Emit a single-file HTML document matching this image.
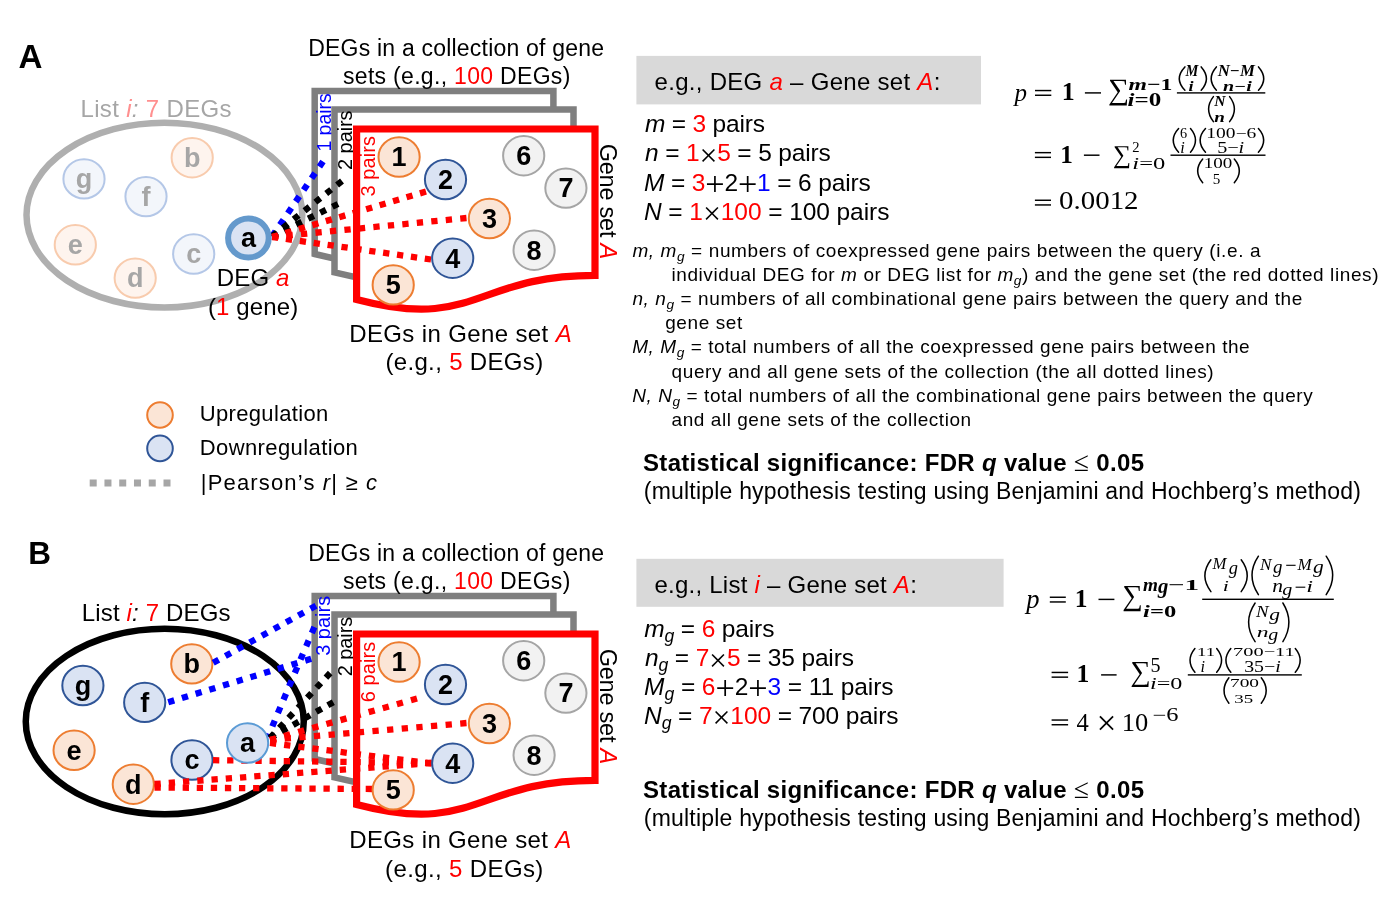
<!DOCTYPE html>
<html><head><meta charset="utf-8"><title>DEG gene set enrichment diagram</title>
<style>html,body{margin:0;padding:0;background:#fff;} svg{display:block;will-change:transform;}</style></head>
<body><svg width="1392" height="902" viewBox="0 0 1392 902" font-family="'Liberation Sans', sans-serif">
<rect width="1392" height="902" fill="#fff"/>
<ellipse cx="164.4" cy="215.1" rx="137.9" ry="92.4" fill="none" stroke="#afafaf" stroke-width="6.5"/>
<ellipse cx="192.2" cy="157.7" rx="20.6" ry="19.7" fill="#fef4ee" stroke="#f8cbad" stroke-width="2.0"/>
<text x="192.2" y="167.0" font-size="27" font-weight="bold" text-anchor="middle" fill="#a6a6a6">b</text>
<ellipse cx="84" cy="178.9" rx="20.6" ry="19.7" fill="#f3f6fb" stroke="#b4c7e7" stroke-width="2.0"/>
<text x="84" y="188.2" font-size="27" font-weight="bold" text-anchor="middle" fill="#a6a6a6">g</text>
<ellipse cx="146" cy="196.6" rx="20.6" ry="19.7" fill="#f3f6fb" stroke="#b4c7e7" stroke-width="2.0"/>
<text x="146" y="205.9" font-size="27" font-weight="bold" text-anchor="middle" fill="#a6a6a6">f</text>
<ellipse cx="75.3" cy="244.8" rx="20.6" ry="19.7" fill="#fef4ee" stroke="#f8cbad" stroke-width="2.0"/>
<text x="75.3" y="254.1" font-size="27" font-weight="bold" text-anchor="middle" fill="#a6a6a6">e</text>
<ellipse cx="193.7" cy="254" rx="20.6" ry="19.7" fill="#f3f6fb" stroke="#b4c7e7" stroke-width="2.0"/>
<text x="193.7" y="263.3" font-size="27" font-weight="bold" text-anchor="middle" fill="#a6a6a6">c</text>
<ellipse cx="135.2" cy="278.1" rx="20.6" ry="19.7" fill="#fef4ee" stroke="#f8cbad" stroke-width="2.0"/>
<text x="135.2" y="287.4" font-size="27" font-weight="bold" text-anchor="middle" fill="#a6a6a6">d</text>
<path d="M314.7,91.1 H553.4 V231.0 C434.0,231.0 434.0,284.2 314.7,254.0 Z" fill="#fff" stroke="#7f7f7f" stroke-width="6.5" stroke-linejoin="miter"/>
<text transform="translate(330.6,151.6) rotate(-90)" x="0" y="0" font-size="19.5" fill="#0000ff" textLength="58.3" lengthAdjust="spacing"><tspan>1 pairs</tspan></text>
<line x1="323" y1="161.5" x2="272" y2="236.5" stroke="#0000ff" stroke-width="6.3" stroke-dasharray="6.3 7.766"/>
<path d="M334.5,109.5 H573.5 V249.4 C454.0,249.4 454.0,302.6 334.5,272.4 Z" fill="#fff" stroke="#7f7f7f" stroke-width="6.5" stroke-linejoin="miter"/>
<text transform="translate(351.9,169.9) rotate(-90)" x="0" y="0" font-size="20" fill="#000" textLength="59.5" lengthAdjust="spacing"><tspan>2 pairs</tspan></text>
<line x1="342" y1="181" x2="272" y2="236.5" stroke="#000" stroke-width="6.3" stroke-dasharray="6.3 7.539"/>
<line x1="338" y1="204" x2="272" y2="236.5" stroke="#000" stroke-width="6.3" stroke-dasharray="6.3 7.154"/>
<path d="M356.6,129 H595.0 V275.3 C475.8,275.3 475.8,331.0 356.6,299.4 Z" fill="#fff" stroke="#ff0000" stroke-width="7.2" stroke-linejoin="miter"/>
<text transform="translate(375.2,196.5) rotate(-90)" x="0" y="0" font-size="20" fill="#ff0000" textLength="60.5" lengthAdjust="spacing"><tspan>3 pairs</tspan></text>
<line x1="426" y1="191.6" x2="272" y2="237" stroke="#ff0000" stroke-width="6.3" stroke-dasharray="6.3 7.723"/>
<line x1="466.5" y1="218" x2="272" y2="237" stroke="#ff0000" stroke-width="6.3" stroke-dasharray="6.3 8.248"/>
<line x1="431" y1="259.5" x2="272" y2="237" stroke="#ff0000" stroke-width="6.3" stroke-dasharray="6.3 7.726"/>
<ellipse cx="248.4" cy="238" rx="20.3" ry="19.5" fill="#dae3f3" stroke="#6499cc" stroke-width="6"/>
<text x="248.4" y="247.3" font-size="27" font-weight="bold" text-anchor="middle" fill="#000">a</text>
<ellipse cx="399.1" cy="157" rx="20.6" ry="19.7" fill="#fbe5d6" stroke="#ed7d31" stroke-width="2.0"/>
<text x="399.1" y="166.3" font-size="27" font-weight="bold" text-anchor="middle" fill="#000">1</text>
<ellipse cx="445.5" cy="179.5" rx="20.6" ry="19.7" fill="#dae3f3" stroke="#2f5597" stroke-width="2.0"/>
<text x="445.5" y="188.8" font-size="27" font-weight="bold" text-anchor="middle" fill="#000">2</text>
<ellipse cx="489.4" cy="218.5" rx="20.6" ry="19.7" fill="#fbe5d6" stroke="#ed7d31" stroke-width="2.0"/>
<text x="489.4" y="227.8" font-size="27" font-weight="bold" text-anchor="middle" fill="#000">3</text>
<ellipse cx="452.7" cy="258.2" rx="20.6" ry="19.7" fill="#dae3f3" stroke="#2f5597" stroke-width="2.0"/>
<text x="452.7" y="267.5" font-size="27" font-weight="bold" text-anchor="middle" fill="#000">4</text>
<ellipse cx="393.2" cy="284.9" rx="20.6" ry="19.7" fill="#fbe5d6" stroke="#ed7d31" stroke-width="2.0"/>
<text x="393.2" y="294.2" font-size="27" font-weight="bold" text-anchor="middle" fill="#000">5</text>
<ellipse cx="523.7" cy="155.7" rx="20.6" ry="19.7" fill="#f2f2f2" stroke="#a5a5a5" stroke-width="2.0"/>
<text x="523.7" y="165.0" font-size="27" font-weight="bold" text-anchor="middle" fill="#000">6</text>
<ellipse cx="565.9" cy="188.1" rx="20.6" ry="19.7" fill="#f2f2f2" stroke="#a5a5a5" stroke-width="2.0"/>
<text x="565.9" y="197.4" font-size="27" font-weight="bold" text-anchor="middle" fill="#000">7</text>
<ellipse cx="534.1" cy="250.2" rx="20.6" ry="19.7" fill="#f2f2f2" stroke="#a5a5a5" stroke-width="2.0"/>
<text x="534.1" y="259.5" font-size="27" font-weight="bold" text-anchor="middle" fill="#000">8</text>
<text transform="translate(599.6,143.7) rotate(90)" x="0" y="0" font-size="23.5" fill="#000" textLength="115.5" lengthAdjust="spacing"><tspan>Gene set </tspan><tspan fill="#ff0000" font-style="italic">A</tspan></text>
<circle cx="160" cy="415" r="12.8" fill="#fbe5d6" stroke="#ed7d31" stroke-width="2"/>
<circle cx="160" cy="448.4" r="12.8" fill="#dae3f3" stroke="#2f5597" stroke-width="2"/>
<line x1="170.5" y1="482.9" x2="89.7" y2="482.9" stroke="#a6a6a6" stroke-width="7" stroke-dasharray="7 7.760"/>
<rect x="636.4" y="55.9" width="344.6" height="48.5" fill="#d9d9d9"/>
<rect x="1176.9" y="92.20" width="88.4" height="1.4" fill="#000"/>
<path d="M1184.9,66.9 Q1173.7,78.6 1184.9,90.2" fill="none" stroke="#000" stroke-width="1.5" stroke-linecap="round"/>
<path d="M1201.2,66.9 Q1211.6,78.6 1201.2,90.2" fill="none" stroke="#000" stroke-width="1.5" stroke-linecap="round"/>
<path d="M1216.4,66.9 Q1206.0,78.6 1216.4,90.2" fill="none" stroke="#000" stroke-width="1.5" stroke-linecap="round"/>
<path d="M1258.5,66.9 Q1268.9,78.6 1258.5,90.2" fill="none" stroke="#000" stroke-width="1.5" stroke-linecap="round"/>
<path d="M1213.4,96.6 Q1203.8,109.1 1213.4,121.6" fill="none" stroke="#000" stroke-width="1.5" stroke-linecap="round"/>
<path d="M1229.6,96.6 Q1239.2,109.1 1229.6,121.6" fill="none" stroke="#000" stroke-width="1.5" stroke-linecap="round"/>
<rect x="1170.5" y="154.50" width="95.0" height="1.4" fill="#000"/>
<path d="M1178.6,128.6 Q1167.8,140.4 1178.6,152.3" fill="none" stroke="#000" stroke-width="1.5" stroke-linecap="round"/>
<path d="M1190.5,128.6 Q1200.5,140.4 1190.5,152.3" fill="none" stroke="#000" stroke-width="1.5" stroke-linecap="round"/>
<path d="M1205.5,128.6 Q1194.7,140.4 1205.5,152.3" fill="none" stroke="#000" stroke-width="1.5" stroke-linecap="round"/>
<path d="M1258.4,128.6 Q1269.0,140.4 1258.4,152.3" fill="none" stroke="#000" stroke-width="1.5" stroke-linecap="round"/>
<path d="M1202.7,159.0 Q1192.7,170.8 1202.7,182.7" fill="none" stroke="#000" stroke-width="1.5" stroke-linecap="round"/>
<path d="M1234.3,159.0 Q1244.3,170.8 1234.3,182.7" fill="none" stroke="#000" stroke-width="1.5" stroke-linecap="round"/>
<rect x="1035" y="89.83" width="16.3" height="1.45" fill="#000"/>
<rect x="1035" y="94.53" width="16.3" height="1.45" fill="#000"/>
<rect x="1084.9" y="92.18" width="16.1" height="1.45" fill="#000"/>
<rect x="1034.9" y="151.93" width="16.1" height="1.45" fill="#000"/>
<rect x="1034.9" y="156.62" width="16.1" height="1.45" fill="#000"/>
<rect x="1083.9" y="154.47" width="15.6" height="1.45" fill="#000"/>
<rect x="1034.9" y="199.53" width="16.1" height="1.45" fill="#000"/>
<rect x="1034.9" y="204.22" width="16.1" height="1.45" fill="#000"/>
<ellipse cx="164.75" cy="721.5" rx="139" ry="92.75" fill="none" stroke="#000" stroke-width="6.5"/>
<ellipse cx="191.8" cy="663.9" rx="20.6" ry="19.7" fill="#fbe5d6" stroke="#ed7d31" stroke-width="2.0"/>
<text x="191.8" y="673.2" font-size="27" font-weight="bold" text-anchor="middle" fill="#000">b</text>
<ellipse cx="82.9" cy="685.5" rx="20.6" ry="19.7" fill="#dae3f3" stroke="#2f5597" stroke-width="2.0"/>
<text x="82.9" y="694.8" font-size="27" font-weight="bold" text-anchor="middle" fill="#000">g</text>
<ellipse cx="144.7" cy="702.4" rx="20.6" ry="19.7" fill="#dae3f3" stroke="#2f5597" stroke-width="2.0"/>
<text x="144.7" y="711.7" font-size="27" font-weight="bold" text-anchor="middle" fill="#000">f</text>
<ellipse cx="74.1" cy="750.3" rx="20.6" ry="19.7" fill="#fbe5d6" stroke="#ed7d31" stroke-width="2.0"/>
<text x="74.1" y="759.6" font-size="27" font-weight="bold" text-anchor="middle" fill="#000">e</text>
<ellipse cx="192" cy="760" rx="20.6" ry="19.7" fill="#dae3f3" stroke="#2f5597" stroke-width="2.0"/>
<text x="192" y="769.3" font-size="27" font-weight="bold" text-anchor="middle" fill="#000">c</text>
<ellipse cx="133.3" cy="784.2" rx="20.6" ry="19.7" fill="#fbe5d6" stroke="#ed7d31" stroke-width="2.0"/>
<text x="133.3" y="793.5" font-size="27" font-weight="bold" text-anchor="middle" fill="#000">d</text>
<path d="M314.7,596.1 H553.4 V736.0 C434.0,736.0 434.0,789.2 314.7,759.0 Z" fill="#fff" stroke="#7f7f7f" stroke-width="6.5" stroke-linejoin="miter"/>
<text transform="translate(329.8,655.8) rotate(-90)" x="0" y="0" font-size="20" fill="#0000ff" textLength="60" lengthAdjust="spacing"><tspan>3 pairs</tspan></text>
<line x1="316" y1="605.8" x2="213.2" y2="662.7" stroke="#0000ff" stroke-width="6.3" stroke-dasharray="6.3 7.600"/>
<line x1="311.2" y1="658.8" x2="168.2" y2="702.2" stroke="#0000ff" stroke-width="6.3" stroke-dasharray="6.3 8.014"/>
<path d="M314.4,627 Q281,705 268,737" fill="none" stroke="#0000ff" stroke-width="6.3" stroke-dasharray="6.3 8.2"/>
<path d="M334.5,614.5 H573.5 V754.4 C454.0,754.4 454.0,807.6 334.5,777.4 Z" fill="#fff" stroke="#7f7f7f" stroke-width="6.5" stroke-linejoin="miter"/>
<text transform="translate(351.9,676.2) rotate(-90)" x="0" y="0" font-size="20" fill="#000" textLength="59.5" lengthAdjust="spacing"><tspan>2 pairs</tspan></text>
<line x1="330.2" y1="673" x2="270" y2="738" stroke="#000" stroke-width="6.3" stroke-dasharray="6.3 7.416"/>
<line x1="333.3" y1="702.2" x2="270" y2="738" stroke="#000" stroke-width="6.3" stroke-dasharray="6.3 6.984"/>
<path d="M356.6,634 H595.0 V780.3 C475.8,780.3 475.8,836.0 356.6,804.4 Z" fill="#fff" stroke="#ff0000" stroke-width="7.2" stroke-linejoin="miter"/>
<text transform="translate(375.2,702.3) rotate(-90)" x="0" y="0" font-size="20" fill="#ff0000" textLength="60.5" lengthAdjust="spacing"><tspan>6 pairs</tspan></text>
<line x1="417" y1="698.5" x2="270" y2="740" stroke="#ff0000" stroke-width="6.3" stroke-dasharray="6.3 8.345"/>
<line x1="466.5" y1="723" x2="270" y2="740" stroke="#ff0000" stroke-width="6.3" stroke-dasharray="6.3 8.387"/>
<line x1="431.5" y1="763.5" x2="270" y2="743" stroke="#ff0000" stroke-width="6.3" stroke-dasharray="6.3 7.927"/>
<line x1="431.5" y1="763" x2="213" y2="760.2" stroke="#ff0000" stroke-width="6.3" stroke-dasharray="6.3 7.848"/>
<line x1="431.5" y1="763" x2="154.5" y2="784" stroke="#ff0000" stroke-width="6.3" stroke-dasharray="6.3 7.989"/>
<line x1="372" y1="789" x2="154.5" y2="787.5" stroke="#ff0000" stroke-width="6.3" stroke-dasharray="6.3 7.780"/>
<ellipse cx="247.6" cy="743" rx="20.6" ry="19.7" fill="#dae3f3" stroke="#5b9bd5" stroke-width="2"/>
<text x="247.6" y="752.3" font-size="27" font-weight="bold" text-anchor="middle" fill="#000">a</text>
<ellipse cx="399.1" cy="662" rx="20.6" ry="19.7" fill="#fbe5d6" stroke="#ed7d31" stroke-width="2.0"/>
<text x="399.1" y="671.3" font-size="27" font-weight="bold" text-anchor="middle" fill="#000">1</text>
<ellipse cx="445.5" cy="684.5" rx="20.6" ry="19.7" fill="#dae3f3" stroke="#2f5597" stroke-width="2.0"/>
<text x="445.5" y="693.8" font-size="27" font-weight="bold" text-anchor="middle" fill="#000">2</text>
<ellipse cx="489.4" cy="723.5" rx="20.6" ry="19.7" fill="#fbe5d6" stroke="#ed7d31" stroke-width="2.0"/>
<text x="489.4" y="732.8" font-size="27" font-weight="bold" text-anchor="middle" fill="#000">3</text>
<ellipse cx="452.7" cy="763.2" rx="20.6" ry="19.7" fill="#dae3f3" stroke="#2f5597" stroke-width="2.0"/>
<text x="452.7" y="772.5" font-size="27" font-weight="bold" text-anchor="middle" fill="#000">4</text>
<ellipse cx="393.2" cy="789.9" rx="20.6" ry="19.7" fill="#fbe5d6" stroke="#ed7d31" stroke-width="2.0"/>
<text x="393.2" y="799.2" font-size="27" font-weight="bold" text-anchor="middle" fill="#000">5</text>
<ellipse cx="523.7" cy="660.7" rx="20.6" ry="19.7" fill="#f2f2f2" stroke="#a5a5a5" stroke-width="2.0"/>
<text x="523.7" y="670.0" font-size="27" font-weight="bold" text-anchor="middle" fill="#000">6</text>
<ellipse cx="565.9" cy="693.1" rx="20.6" ry="19.7" fill="#f2f2f2" stroke="#a5a5a5" stroke-width="2.0"/>
<text x="565.9" y="702.4" font-size="27" font-weight="bold" text-anchor="middle" fill="#000">7</text>
<ellipse cx="534.1" cy="755.2" rx="20.6" ry="19.7" fill="#f2f2f2" stroke="#a5a5a5" stroke-width="2.0"/>
<text x="534.1" y="764.5" font-size="27" font-weight="bold" text-anchor="middle" fill="#000">8</text>
<text transform="translate(599.6,648.7) rotate(90)" x="0" y="0" font-size="23.5" fill="#000" textLength="115.5" lengthAdjust="spacing"><tspan>Gene set </tspan><tspan fill="#ff0000" font-style="italic">A</tspan></text>
<rect x="636.4" y="558.8" width="367.2" height="48" fill="#d9d9d9"/>
<rect x="1202.2" y="598.60" width="131.6" height="1.4" fill="#000"/>
<path d="M1210.9,559.8 Q1198.9,575.7 1210.9,591.6" fill="none" stroke="#000" stroke-width="1.5" stroke-linecap="round"/>
<path d="M1241.2,559.8 Q1253.2,575.7 1241.2,591.6" fill="none" stroke="#000" stroke-width="1.5" stroke-linecap="round"/>
<path d="M1258.4,556.2 Q1245.6,575.5 1258.4,594.7" fill="none" stroke="#000" stroke-width="1.5" stroke-linecap="round"/>
<path d="M1326.2,556.2 Q1339.2,575.5 1326.2,594.7" fill="none" stroke="#000" stroke-width="1.5" stroke-linecap="round"/>
<path d="M1255.1,603.0 Q1242.1,622.3 1255.1,641.6" fill="none" stroke="#000" stroke-width="1.5" stroke-linecap="round"/>
<path d="M1282.9,603.0 Q1294.9,622.3 1282.9,641.6" fill="none" stroke="#000" stroke-width="1.5" stroke-linecap="round"/>
<rect x="1187.8" y="674.20" width="114.0" height="1.4" fill="#000"/>
<path d="M1194.9,648.5 Q1185.1,660.4 1194.9,672.3" fill="none" stroke="#000" stroke-width="1.5" stroke-linecap="round"/>
<path d="M1216.7,648.5 Q1226.5,660.4 1216.7,672.3" fill="none" stroke="#000" stroke-width="1.5" stroke-linecap="round"/>
<path d="M1230.8,648.5 Q1221.0,660.4 1230.8,672.3" fill="none" stroke="#000" stroke-width="1.5" stroke-linecap="round"/>
<path d="M1295.3,648.5 Q1305.1,660.4 1295.3,672.3" fill="none" stroke="#000" stroke-width="1.5" stroke-linecap="round"/>
<path d="M1228.9,677.8 Q1219.1,690.5 1228.9,703.2" fill="none" stroke="#000" stroke-width="1.5" stroke-linecap="round"/>
<path d="M1261.3,677.8 Q1271.1,690.5 1261.3,703.2" fill="none" stroke="#000" stroke-width="1.5" stroke-linecap="round"/>
<rect x="1049.8" y="596.52" width="16.0" height="1.45" fill="#000"/>
<rect x="1049.8" y="601.23" width="16.0" height="1.45" fill="#000"/>
<rect x="1098.5" y="598.67" width="15.9" height="1.45" fill="#000"/>
<rect x="1286.2" y="564.75" width="9.4" height="1.1" fill="#000"/>
<rect x="1295.6" y="586.65" width="9.7" height="1.1" fill="#000"/>
<rect x="1051.6" y="671.72" width="16.5" height="1.45" fill="#000"/>
<rect x="1051.6" y="676.42" width="16.5" height="1.45" fill="#000"/>
<rect x="1101.1" y="674.17" width="15.5" height="1.45" fill="#000"/>
<rect x="1051.6" y="719.32" width="16.5" height="1.45" fill="#000"/>
<rect x="1051.6" y="724.02" width="16.5" height="1.45" fill="#000"/>
<text x="18.50" y="67.50" font-size="33.19" font-weight="bold"><tspan>A</tspan></text>
<text x="80.50" y="116.80" font-size="24.00" fill="#a6a6a6" textLength="151.00" lengthAdjust="spacing"><tspan>List </tspan><tspan fill="#ff8f8f" font-style="italic">i</tspan><tspan font-style="italic">: </tspan><tspan fill="#ff8f8f">7</tspan><tspan> DEGs</tspan></text>
<text x="308.20" y="55.70" font-size="23.00" textLength="295.90" lengthAdjust="spacing"><tspan>DEGs in a collection of gene</tspan></text>
<text x="343.00" y="83.50" font-size="23.00" textLength="227.30" lengthAdjust="spacing"><tspan>sets (e.g., </tspan><tspan fill="#ff0000">100</tspan><tspan> DEGs)</tspan></text>
<text x="349.20" y="341.70" font-size="24.00" textLength="222.50" lengthAdjust="spacing"><tspan>DEGs in Gene set </tspan><tspan fill="#ff0000" font-style="italic">A</tspan></text>
<text x="385.40" y="369.80" font-size="24.00" textLength="157.80" lengthAdjust="spacing"><tspan>(e.g., </tspan><tspan fill="#ff0000">5</tspan><tspan> DEGs)</tspan></text>
<text x="216.80" y="285.70" font-size="24.00" textLength="72.60" lengthAdjust="spacing"><tspan>DEG </tspan><tspan fill="#ff0000" font-style="italic">a</tspan></text>
<text x="208.00" y="315.00" font-size="24.00" textLength="90.20" lengthAdjust="spacing"><tspan>(</tspan><tspan fill="#ff0000">1</tspan><tspan> gene)</tspan></text>
<text x="199.80" y="420.90" font-size="22.00" textLength="128.40" lengthAdjust="spacing"><tspan>Upregulation</tspan></text>
<text x="199.80" y="455.30" font-size="22.00" textLength="158.00" lengthAdjust="spacing"><tspan>Downregulation</tspan></text>
<text x="200.80" y="489.80" font-size="22.00" textLength="176.20" lengthAdjust="spacing"><tspan>|Pearson’s </tspan><tspan font-style="italic">r</tspan><tspan>| ≥ </tspan><tspan font-style="italic">c</tspan></text>
<text x="654.60" y="89.50" font-size="24.00" textLength="285.70" lengthAdjust="spacing"><tspan>e.g., DEG </tspan><tspan fill="#ff0000" font-style="italic">a</tspan><tspan> – Gene set </tspan><tspan fill="#ff0000" font-style="italic">A</tspan><tspan>:</tspan></text>
<text x="645.00" y="132.30" font-size="24.50" textLength="119.90" lengthAdjust="spacing"><tspan font-style="italic">m</tspan><tspan> = </tspan><tspan fill="#ff0000">3</tspan><tspan> pairs</tspan></text>
<text x="645.10" y="161.30" font-size="24.50" textLength="185.60" lengthAdjust="spacing"><tspan font-style="italic">n</tspan><tspan> = </tspan><tspan fill="#ff0000">1</tspan><tspan font-size="31.85" dy="4.3" font-family="'Liberation Serif', serif">×</tspan><tspan fill="#ff0000" dy="-4.3">5</tspan><tspan> = 5 pairs</tspan></text>
<text x="644.00" y="190.90" font-size="24.50" textLength="226.80" lengthAdjust="spacing"><tspan font-style="italic">M</tspan><tspan> = </tspan><tspan fill="#ff0000">3</tspan><tspan font-size="34.30" dy="4" font-family="'Liberation Serif', serif">+</tspan><tspan dy="-4">2</tspan><tspan font-size="34.30" dy="4" font-family="'Liberation Serif', serif">+</tspan><tspan fill="#0000ff" dy="-4">1</tspan><tspan> = 6 pairs</tspan></text>
<text x="644.00" y="219.80" font-size="24.50" textLength="245.40" lengthAdjust="spacing"><tspan font-style="italic">N</tspan><tspan> = </tspan><tspan fill="#ff0000">1</tspan><tspan font-size="31.85" dy="4.3" font-family="'Liberation Serif', serif">×</tspan><tspan fill="#ff0000" dy="-4.3">100</tspan><tspan> = 100 pairs</tspan></text>
<text x="632.40" y="256.60" font-size="19.00" textLength="628.10" lengthAdjust="spacing"><tspan font-style="italic">m, m</tspan><tspan font-style="italic" font-size="13.68" dy="4">g</tspan><tspan dy="-4"> = numbers of coexpressed gene pairs between the query (i.e. a</tspan></text>
<text x="671.40" y="280.80" font-size="19.00" textLength="707.10" lengthAdjust="spacing"><tspan>individual DEG for </tspan><tspan font-style="italic">m</tspan><tspan> or DEG list for </tspan><tspan font-style="italic">m</tspan><tspan font-style="italic" font-size="13.68" dy="4">g</tspan><tspan dy="-4">) and the gene set (the red dotted lines)</tspan></text>
<text x="632.40" y="305.00" font-size="19.00" textLength="669.90" lengthAdjust="spacing"><tspan font-style="italic">n, n</tspan><tspan font-style="italic" font-size="13.68" dy="4">g</tspan><tspan dy="-4"> = numbers of all combinational gene pairs between the query and the</tspan></text>
<text x="665.20" y="329.10" font-size="19.00" textLength="77.00" lengthAdjust="spacing"><tspan>gene set</tspan></text>
<text x="632.20" y="353.40" font-size="19.00" textLength="617.50" lengthAdjust="spacing"><tspan font-style="italic">M, M</tspan><tspan font-style="italic" font-size="13.68" dy="4">g</tspan><tspan dy="-4"> = total numbers of all the coexpressed gene pairs between the</tspan></text>
<text x="671.60" y="377.60" font-size="19.00" textLength="542.00" lengthAdjust="spacing"><tspan>query and all gene sets of the collection (the all dotted lines)</tspan></text>
<text x="632.20" y="402.00" font-size="19.00" textLength="680.50" lengthAdjust="spacing"><tspan font-style="italic">N, N</tspan><tspan font-style="italic" font-size="13.68" dy="4">g</tspan><tspan dy="-4"> = total numbers of all the combinational gene pairs between the query</tspan></text>
<text x="671.60" y="426.00" font-size="19.00" textLength="299.50" lengthAdjust="spacing"><tspan>and all gene sets of the collection</tspan></text>
<text x="643.00" y="471.10" font-size="24.00" font-weight="bold" textLength="501.00" lengthAdjust="spacing"><tspan>Statistical significance: FDR </tspan><tspan font-style="italic">q</tspan><tspan> value </tspan><tspan font-weight="normal" font-size="27.60" font-family="'Liberation Serif', serif">≤</tspan><tspan> 0.05</tspan></text>
<text x="643.80" y="499.30" font-size="23.00" textLength="717.20" lengthAdjust="spacing"><tspan>(multiple hypothesis testing using Benjamini and Hochberg’s method)</tspan></text>
<text x="28.20" y="564.00" font-size="31.47" font-weight="bold"><tspan>B</tspan></text>
<text x="81.80" y="621.40" font-size="24.00" textLength="148.80" lengthAdjust="spacing"><tspan>List </tspan><tspan fill="#ff0000" font-style="italic">i</tspan><tspan font-style="italic">: </tspan><tspan fill="#ff0000">7</tspan><tspan> DEGs</tspan></text>
<text x="308.20" y="560.70" font-size="23.00" textLength="295.90" lengthAdjust="spacing"><tspan>DEGs in a collection of gene</tspan></text>
<text x="343.00" y="588.50" font-size="23.00" textLength="227.30" lengthAdjust="spacing"><tspan>sets (e.g., </tspan><tspan fill="#ff0000">100</tspan><tspan> DEGs)</tspan></text>
<text x="349.30" y="847.90" font-size="24.00" textLength="222.00" lengthAdjust="spacing"><tspan>DEGs in Gene set </tspan><tspan fill="#ff0000" font-style="italic">A</tspan></text>
<text x="385.10" y="876.80" font-size="24.00" textLength="158.20" lengthAdjust="spacing"><tspan>(e.g., </tspan><tspan fill="#ff0000">5</tspan><tspan> DEGs)</tspan></text>
<text x="654.40" y="592.70" font-size="24.00" textLength="262.40" lengthAdjust="spacing"><tspan>e.g., List </tspan><tspan fill="#ff0000" font-style="italic">i</tspan><tspan> – Gene set </tspan><tspan fill="#ff0000" font-style="italic">A</tspan><tspan>:</tspan></text>
<text x="644.20" y="637.30" font-size="24.50" textLength="130.20" lengthAdjust="spacing"><tspan font-style="italic">m</tspan><tspan font-style="italic" font-size="17.64" dy="5">g</tspan><tspan dy="-5"> = </tspan><tspan fill="#ff0000">6</tspan><tspan> pairs</tspan></text>
<text x="645.10" y="666.20" font-size="24.50" textLength="208.80" lengthAdjust="spacing"><tspan font-style="italic">n</tspan><tspan font-style="italic" font-size="17.64" dy="5">g</tspan><tspan dy="-5"> = </tspan><tspan fill="#ff0000">7</tspan><tspan font-size="31.85" dy="4.3" font-family="'Liberation Serif', serif">×</tspan><tspan fill="#ff0000" dy="-4.3">5</tspan><tspan> = 35 pairs</tspan></text>
<text x="644.10" y="695.30" font-size="24.50" textLength="249.40" lengthAdjust="spacing"><tspan font-style="italic">M</tspan><tspan font-style="italic" font-size="17.64" dy="5">g</tspan><tspan dy="-5"> = </tspan><tspan fill="#ff0000">6</tspan><tspan font-size="34.30" dy="4" font-family="'Liberation Serif', serif">+</tspan><tspan dy="-4">2</tspan><tspan font-size="34.30" dy="4" font-family="'Liberation Serif', serif">+</tspan><tspan fill="#0000ff" dy="-4">3</tspan><tspan> = 11 pairs</tspan></text>
<text x="644.10" y="723.50" font-size="24.50" textLength="254.40" lengthAdjust="spacing"><tspan font-style="italic">N</tspan><tspan font-style="italic" font-size="17.64" dy="5">g</tspan><tspan dy="-5"> = </tspan><tspan fill="#ff0000">7</tspan><tspan font-size="31.85" dy="4.3" font-family="'Liberation Serif', serif">×</tspan><tspan fill="#ff0000" dy="-4.3">100</tspan><tspan> = 700 pairs</tspan></text>
<text x="643.00" y="798.00" font-size="24.00" font-weight="bold" textLength="501.00" lengthAdjust="spacing"><tspan>Statistical significance: FDR </tspan><tspan font-style="italic">q</tspan><tspan> value </tspan><tspan font-weight="normal" font-size="27.60" font-family="'Liberation Serif', serif">≤</tspan><tspan> 0.05</tspan></text>
<text x="643.80" y="826.00" font-size="23.00" textLength="717.20" lengthAdjust="spacing"><tspan>(multiple hypothesis testing using Benjamini and Hochberg’s method)</tspan></text>
<text x="1014.60" y="101.20" font-size="25.01" font-family="'Liberation Serif', serif" font-style="italic"><tspan>p</tspan></text>
<text x="1061.80" y="100.20" font-size="25.99" font-family="'Liberation Serif', serif" font-weight="bold"><tspan>1</tspan></text>
<text x="1108.00" y="98.80" font-size="29.64" font-family="'Liberation Serif', serif"><tspan>∑</tspan></text>
<text x="1128.50" y="89.70" font-size="17.31" font-family="'Liberation Serif', serif" font-weight="bold" transform="matrix(1.3706,0,0,1,-418.21,0)"><tspan font-style="italic">m</tspan><tspan>−1</tspan></text>
<text x="1127.50" y="106.50" font-size="19.12" font-family="'Liberation Serif', serif" font-weight="bold" transform="matrix(1.3109,0,0,1,-350.57,0)"><tspan font-style="italic">i</tspan><tspan>=0</tspan></text>
<text x="1185.50" y="75.80" font-size="15.76" font-family="'Liberation Serif', serif" font-weight="bold" font-style="italic" transform="matrix(0.9178,0,0,1,97.44,0)"><tspan>M</tspan></text>
<text x="1188.60" y="90.70" font-size="14.07" font-family="'Liberation Serif', serif" font-weight="bold" font-style="italic" transform="matrix(1.2907,0,0,1,-345.55,0)"><tspan>i</tspan></text>
<text x="1217.70" y="75.80" font-size="15.76" font-family="'Liberation Serif', serif" font-weight="bold" font-style="italic" transform="matrix(1.0654,0,0,1,-79.60,0)"><tspan>N−M</tspan></text>
<text x="1223.00" y="90.70" font-size="14.07" font-family="'Liberation Serif', serif" font-weight="bold" font-style="italic" transform="matrix(1.4234,0,0,1,-517.82,0)"><tspan>n−i</tspan></text>
<text x="1214.20" y="105.70" font-size="14.71" font-family="'Liberation Serif', serif" font-weight="bold" font-style="italic" transform="matrix(1.0588,0,0,1,-71.40,0)"><tspan>N</tspan></text>
<text x="1214.20" y="121.70" font-size="15.36" font-family="'Liberation Serif', serif" font-weight="bold" font-style="italic" transform="matrix(1.2449,0,0,1,-297.32,0)"><tspan>n</tspan></text>
<text x="1060.20" y="163.30" font-size="25.29" font-family="'Liberation Serif', serif" font-weight="bold"><tspan>1</tspan></text>
<text x="1113.10" y="163.00" font-size="25.42" font-family="'Liberation Serif', serif"><tspan>∑</tspan></text>
<text x="1132.20" y="152.00" font-size="14.62" font-family="'Liberation Serif', serif"><tspan>2</tspan></text>
<text x="1132.30" y="169.00" font-size="17.56" font-family="'Liberation Serif', serif" transform="matrix(1.3992,0,0,1,-451.97,0)"><tspan font-style="italic">i</tspan><tspan>=0</tspan></text>
<text x="1180.00" y="138.30" font-size="14.25" font-family="'Liberation Serif', serif"><tspan>6</tspan></text>
<text x="1180.20" y="153.00" font-size="16.18" font-family="'Liberation Serif', serif" font-style="italic"><tspan>i</tspan></text>
<text x="1206.30" y="138.30" font-size="14.25" font-family="'Liberation Serif', serif" transform="matrix(1.3668,0,0,1,-442.49,0)"><tspan>100−6</tspan></text>
<text x="1217.10" y="153.00" font-size="16.18" font-family="'Liberation Serif', serif" transform="matrix(1.2476,0,0,1,-301.32,0)"><tspan>5−</tspan><tspan font-style="italic">i</tspan></text>
<text x="1203.70" y="167.80" font-size="14.09" font-family="'Liberation Serif', serif" transform="matrix(1.3537,0,0,1,-425.80,0)"><tspan>100</tspan></text>
<text x="1212.80" y="183.90" font-size="15.09" font-family="'Liberation Serif', serif"><tspan>5</tspan></text>
<text x="1059.00" y="209.20" font-size="25.90" font-family="'Liberation Serif', serif" transform="matrix(1.1176,0,0,1,-124.50,0)"><tspan>0.0012</tspan></text>
<text x="1026.20" y="607.50" font-size="26.51" font-family="'Liberation Serif', serif" font-style="italic"><tspan>p</tspan></text>
<text x="1074.80" y="606.80" font-size="25.50" font-family="'Liberation Serif', serif" font-weight="bold"><tspan>1</tspan></text>
<text x="1122.50" y="605.40" font-size="28.82" font-family="'Liberation Serif', serif"><tspan>∑</tspan></text>
<text x="1143.10" y="590.80" font-size="19.22" font-family="'Liberation Serif', serif" font-weight="bold" font-style="italic"><tspan>m</tspan></text>
<text x="1158.00" y="592.50" font-size="20.68" font-family="'Liberation Serif', serif" font-weight="bold" font-style="italic"><tspan>g</tspan></text>
<text x="1168.00" y="590.10" font-size="15.34" font-family="'Liberation Serif', serif" font-weight="bold" transform="matrix(1.8924,0,0,1,-1042.35,0)"><tspan>−1</tspan></text>
<text x="1143.10" y="617.00" font-size="16.00" font-family="'Liberation Serif', serif" font-weight="bold" transform="matrix(1.5376,0,0,1,-614.52,0)"><tspan font-style="italic">i</tspan><tspan>=0</tspan></text>
<text x="1212.50" y="569.40" font-size="17.61" font-family="'Liberation Serif', serif" font-style="italic" transform="matrix(0.9494,0,0,1,61.40,0)"><tspan>M</tspan></text>
<text x="1228.70" y="573.70" font-size="18.26" font-family="'Liberation Serif', serif" font-style="italic" transform="matrix(1.0109,0,0,1,-13.35,0)"><tspan>g</tspan></text>
<text x="1222.75" y="590.90" font-size="15.37" font-family="'Liberation Serif', serif" font-style="italic" transform="matrix(1.4304,0,0,1,-526.30,0)"><tspan>i</tspan></text>
<text x="1259.90" y="569.70" font-size="17.10" font-family="'Liberation Serif', serif" font-style="italic" transform="matrix(1.0079,0,0,1,-9.94,0)"><tspan>N</tspan></text>
<text x="1273.00" y="573.40" font-size="18.18" font-family="'Liberation Serif', serif" font-style="italic" transform="matrix(1.0396,0,0,1,-50.41,0)"><tspan>g</tspan></text>
<text x="1297.50" y="569.90" font-size="17.47" font-family="'Liberation Serif', serif" font-style="italic" transform="matrix(0.9745,0,0,1,33.14,0)"><tspan>M</tspan></text>
<text x="1313.00" y="573.40" font-size="18.18" font-family="'Liberation Serif', serif" font-style="italic" transform="matrix(1.1794,0,0,1,-235.55,0)"><tspan>g</tspan></text>
<text x="1272.10" y="591.70" font-size="19.12" font-family="'Liberation Serif', serif" font-style="italic" transform="matrix(1.1219,0,0,1,-155.02,0)"><tspan>n</tspan></text>
<text x="1282.20" y="595.00" font-size="16.18" font-family="'Liberation Serif', serif" font-style="italic" transform="matrix(1.2408,0,0,1,-308.69,0)"><tspan>g</tspan></text>
<text x="1306.30" y="591.80" font-size="16.18" font-family="'Liberation Serif', serif" font-style="italic" transform="matrix(1.5029,0,0,1,-656.93,0)"><tspan>i</tspan></text>
<text x="1256.10" y="617.00" font-size="15.68" font-family="'Liberation Serif', serif" font-style="italic" transform="matrix(1.2019,0,0,1,-253.65,0)"><tspan>N</tspan></text>
<text x="1269.10" y="620.30" font-size="15.99" font-family="'Liberation Serif', serif" font-style="italic" transform="matrix(1.3450,0,0,1,-437.80,0)"><tspan>g</tspan></text>
<text x="1256.60" y="636.90" font-size="15.19" font-family="'Liberation Serif', serif" font-style="italic" transform="matrix(1.5641,0,0,1,-708.80,0)"><tspan>n</tspan></text>
<text x="1268.40" y="640.40" font-size="16.17" font-family="'Liberation Serif', serif" font-style="italic" transform="matrix(1.2331,0,0,1,-295.69,0)"><tspan>g</tspan></text>
<text x="1076.60" y="681.80" font-size="25.67" font-family="'Liberation Serif', serif" font-weight="bold"><tspan>1</tspan></text>
<text x="1130.40" y="680.90" font-size="28.58" font-family="'Liberation Serif', serif"><tspan>∑</tspan></text>
<text x="1150.50" y="671.70" font-size="20.07" font-family="'Liberation Serif', serif"><tspan>5</tspan></text>
<text x="1150.00" y="688.90" font-size="16.23" font-family="'Liberation Serif', serif" transform="matrix(1.4878,0,0,1,-560.97,0)"><tspan font-style="italic">i</tspan><tspan>=0</tspan></text>
<text x="1197.00" y="656.50" font-size="12.43" font-family="'Liberation Serif', serif" transform="matrix(1.5123,0,0,1,-613.22,0)"><tspan>11</tspan></text>
<text x="1200.50" y="672.00" font-size="16.18" font-family="'Liberation Serif', serif" font-style="italic"><tspan>i</tspan></text>
<text x="1233.00" y="656.50" font-size="12.43" font-family="'Liberation Serif', serif" transform="matrix(1.6378,0,0,1,-786.37,0)"><tspan>700−11</tspan></text>
<text x="1244.20" y="672.00" font-size="16.18" font-family="'Liberation Serif', serif" transform="matrix(1.2264,0,0,1,-281.72,0)"><tspan>35−</tspan><tspan font-style="italic">i</tspan></text>
<text x="1230.00" y="687.40" font-size="11.82" font-family="'Liberation Serif', serif" transform="matrix(1.6397,0,0,1,-786.86,0)"><tspan>700</tspan></text>
<text x="1234.30" y="702.90" font-size="11.82" font-family="'Liberation Serif', serif" transform="matrix(1.6014,0,0,1,-742.32,0)"><tspan>35</tspan></text>
<text x="1076.60" y="731.40" font-size="24.50" font-family="'Liberation Serif', serif"><tspan>4</tspan></text>
<text x="1096.40" y="735.00" font-size="35.40" font-family="'Liberation Serif', serif" textLength="14.10" lengthAdjust="spacing"><tspan>×</tspan></text>
<text x="1121.80" y="731.40" font-size="24.50" font-family="'Liberation Serif', serif" transform="matrix(1.0832,0,0,1,-93.30,0)"><tspan>10</tspan></text>
<text x="1152.50" y="720.70" font-size="17.97" font-family="'Liberation Serif', serif" transform="matrix(1.3628,0,0,1,-418.16,0)"><tspan>−6</tspan></text>
</svg></body></html>
